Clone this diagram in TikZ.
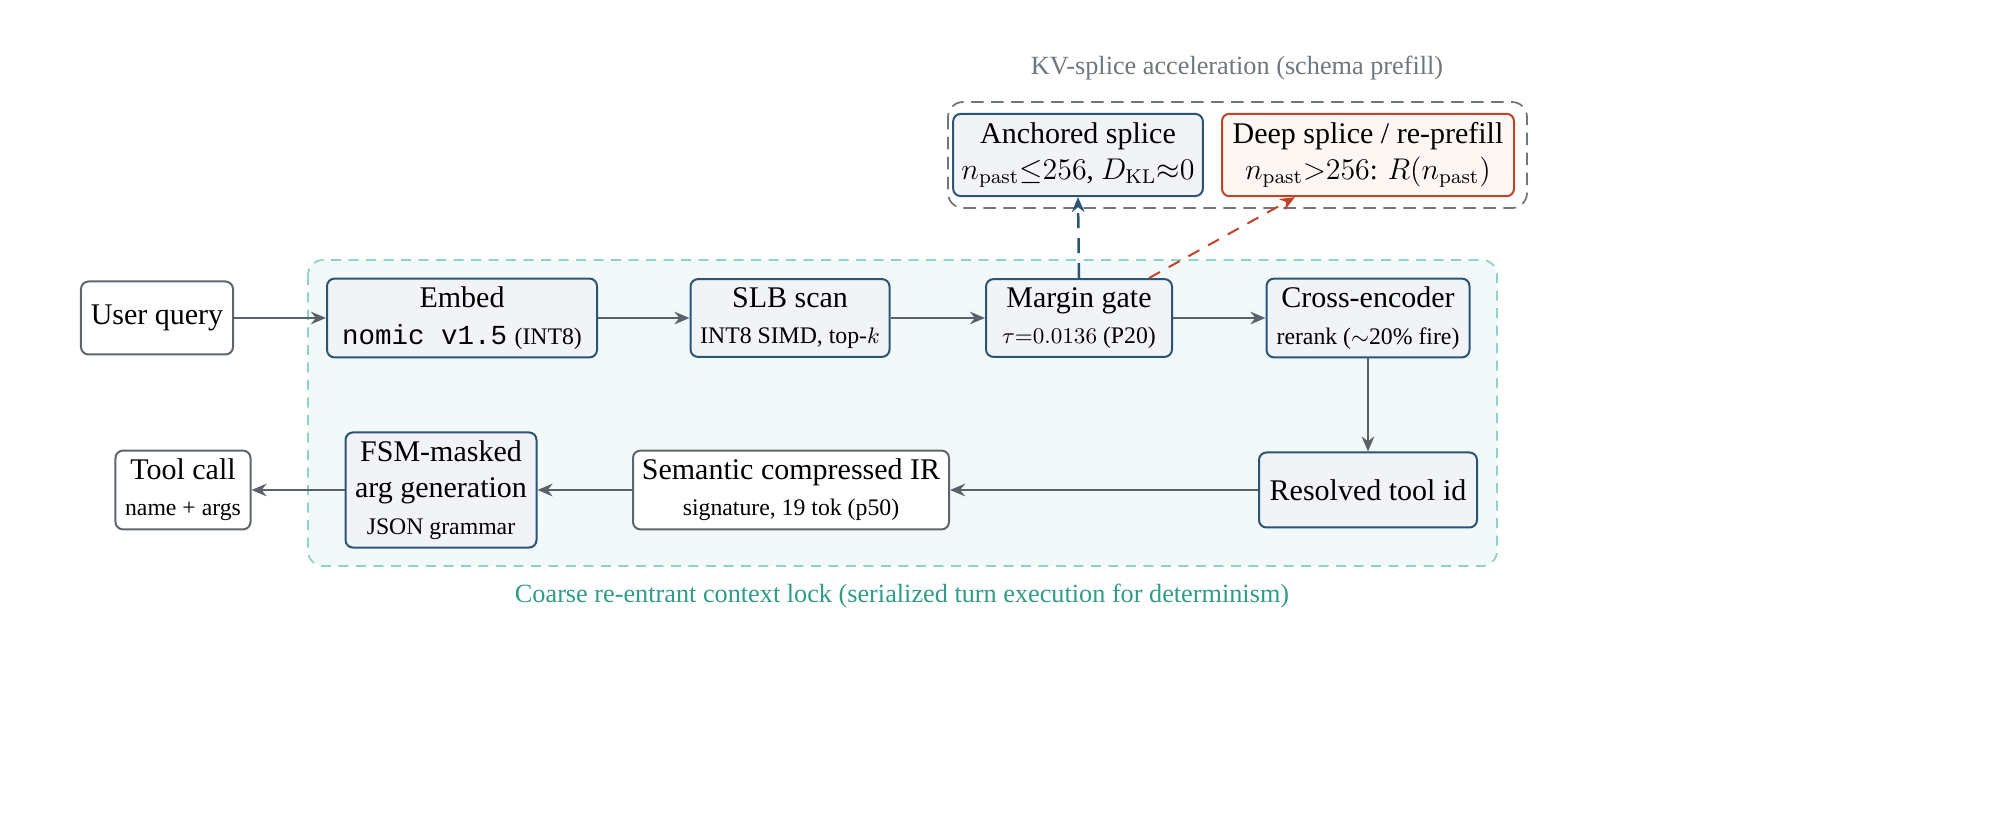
\documentclass[tikz,border=0pt]{standalone}
\usepackage[no-math]{fontspec}
\setmainfont{Liberation Serif}
\setmonofont{Liberation Mono}
\usetikzlibrary{arrows.meta}
\definecolor{boxblue}{HTML}{2B5577}
\definecolor{boxfill}{HTML}{F1F3F7}
\definecolor{plainline}{HTML}{5E656B}
\definecolor{arrowgrey}{HTML}{5A6168}
\definecolor{splred}{HTML}{C0432A}
\definecolor{splfill}{HTML}{FDF6F3}
\definecolor{lockteal}{HTML}{8FD3C6}
\definecolor{lockfill}{HTML}{F3F9F9}
\definecolor{locktext}{HTML}{2E9C86}
\definecolor{kvgrey}{HTML}{6F767C}
\newcommand{\subl}[1]{{\fontsize{9.5}{11}\selectfont #1}}
\newcommand{\mathl}[1]{{\fontsize{11.5}{13}\selectfont #1}}
\tikzset{
  stage/.style={draw=boxblue, fill=boxfill, rounded corners=3pt, line width=0.8pt, align=center, font=\fontsize{12}{14.5}\selectfont},
  plain/.style={stage, draw=plainline, fill=white},
  flow/.style={-{Stealth[length=6pt,width=5pt]}, draw=arrowgrey, line width=1pt},
}
\begin{document}
\begin{tikzpicture}[x=0.4pt,y=-0.4pt]
        \useasboundingbox (0,0) rectangle (1989,825);
        
        %lock region
        \draw [draw=lockteal, fill=lockfill, dash pattern={on 4pt off 3pt}, rounded corners=6pt, line width=0.7pt] (308,260) rectangle (1497,566);
        \node [text=locktext, font=\fontsize{10.5}{13}\selectfont] (locklbl) at (902,596) {Coarse re-entrant context lock (serialized turn execution for determinism)};
        %kv-splice region
        \draw [draw=kvgrey, dash pattern={on 5pt off 3pt}, rounded corners=6pt, line width=0.7pt] (948,102) rectangle (1527,208);
        \node [text=kvgrey, font=\fontsize{10.5}{13}\selectfont] (kvlbl) at (1237,68) {KV-splice acceleration (schema prefill)};
        
        % upper row
        \node [plain, minimum width=60.8pt, minimum height=29.2pt] (user) at (157,318) {User query};
        \node [stage, minimum width=108pt, minimum height=30pt] (embed) at (462,318) {Embed\\{\fontsize{11}{13}\selectfont\texttt{nomic v1.5}} \subl{(INT8)}};
        \node [stage, minimum width=79.6pt, minimum height=30pt] (slb) at (790,318) {SLB scan\\\subl{INT8 SIMD, top-$k$}};
        \node [stage, minimum width=74.4pt, minimum height=30pt] (gate) at (1079,318) {Margin gate\\\subl{$\tau{=}0.0136$ (P20)}};
        \node [stage, minimum width=81.2pt, minimum height=30pt] (cross) at (1368,318) {Cross-encoder\\\subl{rerank ($\sim$20\% fire)}};
        
        % lower row
        \node [stage, minimum width=87.2pt, minimum height=30pt] (res) at (1368,490) {Resolved tool id};
        \node [plain, minimum width=126.4pt, minimum height=30.4pt] (sem) at (791,490) {Semantic compressed IR\\\subl{signature, 19 tok (p50)}};
        \node [stage, minimum width=76.4pt, minimum height=43.6pt] (fsm) at (441,490) {FSM-masked\\arg generation\\\subl{JSON grammar}};
        \node [plain, minimum width=54pt, minimum height=30pt] (call) at (183,490) {Tool call\\\subl{name + args}};
        
        % splice targets
        \node [stage, minimum width=94.8pt, minimum height=31.2pt] (anch) at (1078,155) {Anchored splice\\\mathl{$n_{\mathrm{past}}{\le}256$, $D_{\mathrm{KL}}{\approx}0$}};
        \node [stage, draw=splred, fill=splfill, minimum width=116.8pt, minimum height=31.2pt] (deep) at (1368,155) {Deep splice / re-prefill\\\mathl{$n_{\mathrm{past}}{>}256$: $R(n_{\mathrm{past}})$}};
        
        % connectors
        \draw [flow] (user) -- (embed);
        \draw [flow] (embed) -- (slb);
        \draw [flow] (slb) -- (gate);
        \draw [flow] (gate) -- (cross);
        \draw [flow] (cross) -- (res);
        \draw [flow] (res) -- (sem);
        \draw [flow] (sem) -- (fsm);
        \draw [flow] (fsm) -- (call);
        \draw [flow, draw=boxblue, dash pattern={on 6pt off 4pt}] (gate.north) -- (anch.south);
        \draw [flow, draw=splred, line width=0.8pt, dash pattern={on 5pt off 4pt}] ([xshift=-9.6pt]gate.north east) -- ([xshift=-29.2pt]deep.south);
        
\end{tikzpicture}
\end{document}
